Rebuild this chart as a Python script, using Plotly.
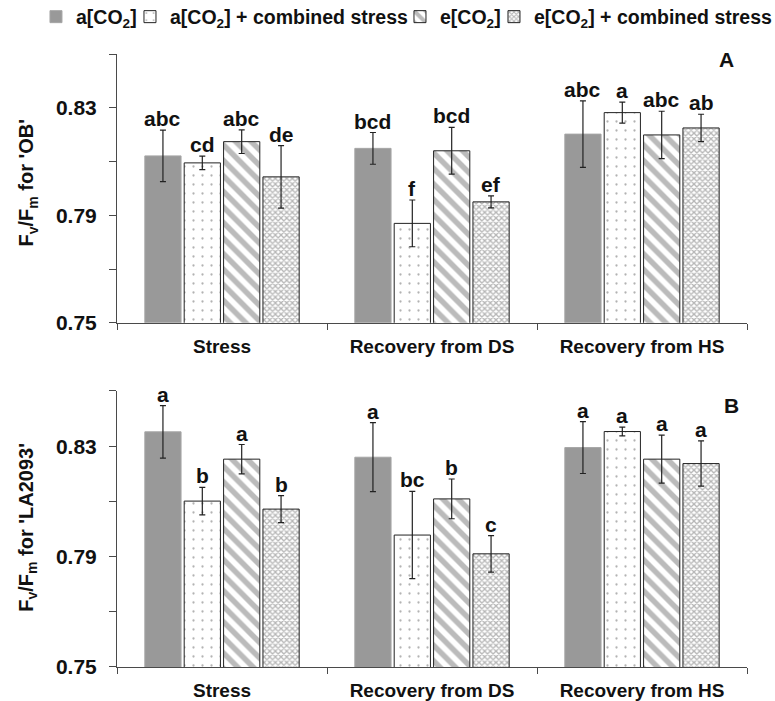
import plotly.graph_objects as go

# ---------------- data ----------------
categories = ["Stress", "Recovery from DS", "Recovery from HS"]
series_names = [
    "a[CO<sub>2</sub>]",
    "a[CO<sub>2</sub>] + combined stress",
    "e[CO<sub>2</sub>]",
    "e[CO<sub>2</sub>] + combined stress",
]

# Panel A: 'OB'
ob_a = [0.8121, 0.8149, 0.8202]
ob_a_cs = [0.8095, 0.7870, 0.8282]
ob_e = [0.8174, 0.8140, 0.8199]
ob_e_cs = [0.8043, 0.7950, 0.8225]
ob_err_a = [0.0096, 0.0059, 0.0124]
ob_err_a_cs = [0.0025, 0.0087, 0.0039]
ob_err_e = [0.0044, 0.0087, 0.0088]
ob_err_e_cs = [0.0116, 0.0022, 0.0051]
ob_let_a = ["abc", "bcd", "abc"]
ob_let_a_cs = ["cd", "f", "a"]
ob_let_e = ["abc", "bcd", "abc"]
ob_let_e_cs = ["de", "ef", "ab"]

# Panel B: 'LA2093'
la_a = [0.8352, 0.8260, 0.8295]
la_a_cs = [0.8101, 0.7978, 0.8353]
la_e = [0.8253, 0.8109, 0.8253]
la_e_cs = [0.8072, 0.7910, 0.8237]
la_err_a = [0.0095, 0.0125, 0.0094]
la_err_a_cs = [0.0050, 0.0158, 0.0016]
la_err_e = [0.0053, 0.0072, 0.0087]
la_err_e_cs = [0.0049, 0.0066, 0.0082]
la_let_a = ["a", "a", "a"]
la_let_a_cs = ["b", "bc", "a"]
la_let_e = ["a", "b", "a"]
la_let_e_cs = ["b", "c", "a"]

y_major = [0.75, 0.79, 0.83]
y_minor = [0.77, 0.81, 0.85]

# ---------------- styles ----------------
FONT = "Liberation Sans, Arial, Helvetica, sans-serif"
AXC = "#4a4a4a"
TXT = "#111111"
edge = dict(color="#222222", width=1)
markers = [
    dict(color="#999999", line=dict(color="#a6a6a6", width=1)),
    dict(color="white", line=edge,
         pattern=dict(shape=".", fgcolor="#666666", bgcolor="white", size=9, solidity=0.05)),
    dict(color="white", line=edge,
         pattern=dict(shape="\\", fgcolor="#777777", bgcolor="white", size=11, solidity=0.5)),
    dict(color="white", line=edge,
         pattern=dict(shape="x", fgcolor="#6e6e6e", bgcolor="white", size=4, solidity=0.55)),
]
legend_widths = [49, 225, 49, 237]
BARGAP = 0.25
GROUPGAP = 0.08

panels = [
    dict(vals=[ob_a, ob_a_cs, ob_e, ob_e_cs],
         errs=[ob_err_a, ob_err_a_cs, ob_err_e, ob_err_e_cs],
         lets=[ob_let_a, ob_let_a_cs, ob_let_e, ob_let_e_cs],
         xa="x", ya="y"),
    dict(vals=[la_a, la_a_cs, la_e, la_e_cs],
         errs=[la_err_a, la_err_a_cs, la_err_e, la_err_e_cs],
         lets=[la_let_a, la_let_a_cs, la_let_e, la_let_e_cs],
         xa="x2", ya="y2"),
]

fig = go.Figure()
annotations = []
nser = len(series_names)
slot = (1 - BARGAP) / nser
for p_i, p in enumerate(panels):
    for j in range(nser):
        fig.add_trace(go.Bar(
            x=categories, y=p["vals"][j], name=series_names[j],
            marker=markers[j], showlegend=(p_i == 0),
            legendwidth=legend_widths[j],
            error_y=dict(type="data", array=p["errs"][j], visible=True,
                         color="#222222", thickness=1.2, width=3),
            xaxis=p["xa"], yaxis=p["ya"],
        ))
        for i in range(len(categories)):
            annotations.append(dict(
                x=i + (j - (nser - 1) / 2) * slot,
                y=p["vals"][j][i] + p["errs"][j][i],
                xref=p["xa"], yref=p["ya"],
                text=p["lets"][j][i], showarrow=False,
                xanchor="center", yanchor="bottom", yshift=-2,
                font=dict(family=FONT, size=21, color=TXT, weight="bold"),
            ))

# y-axis titles and panel letters
for txt, ypos in [("F<sub>v</sub>/F<sub>m</sub> for 'OB'", 0.7903),
                  ("F<sub>v</sub>/F<sub>m</sub> for 'LA2093'", 0.2272)]:
    annotations.append(dict(
        x=0, y=ypos, xref="paper", yref="paper", xshift=-89,
        text=txt, textangle=-90, showarrow=False,
        xanchor="center", yanchor="middle",
        font=dict(family=FONT, size=20, color=TXT, weight="bold"),
    ))
for txt, xpos, ypos in [("A", 0.968, 0.9918), ("B", 0.975, 0.427)]:
    annotations.append(dict(
        x=xpos, y=ypos, xref="paper", yref="paper", text=txt, showarrow=False,
        xanchor="center", yanchor="middle",
        font=dict(family=FONT, size=21, color=TXT, weight="bold"),
    ))

xcommon = dict(
    type="category", tickson="boundaries", ticks="outside", ticklen=6,
    tickcolor=AXC, showline=True, linecolor=AXC, linewidth=1,
    showgrid=False, zeroline=False, ticklabelstandoff=6,
    tickfont=dict(family=FONT, size=19, color=TXT, weight="bold"),
    range=[-0.5, 2.5],
)
ycommon = dict(
    range=[0.75, 0.85], tickmode="array", tickvals=y_major, tickformat=".2f",
    ticks="outside", ticklen=7, tickcolor=AXC, showline=True, linecolor=AXC,
    linewidth=1, showgrid=False, zeroline=False, ticklabelstandoff=8,
    tickfont=dict(family=FONT, size=21, color=TXT, weight="bold"),
    minor=dict(tickmode="array", tickvals=y_minor, ticks="outside", ticklen=7,
               tickcolor=AXC, showgrid=False),
)

fig.update_layout(
    width=775, height=701,
    margin=dict(l=117, r=28, t=54, b=34, autoexpand=False),
    paper_bgcolor="white", plot_bgcolor="white",
    barmode="group", bargap=BARGAP, bargroupgap=GROUPGAP,
    xaxis=dict(anchor="y", domain=[0, 1], **xcommon),
    xaxis2=dict(anchor="y2", domain=[0, 1], **xcommon),
    yaxis=dict(anchor="x", domain=[0.5614, 1], **ycommon),
    yaxis2=dict(anchor="x2", domain=[0, 0.4503], **ycommon),
    legend=dict(orientation="h", x=-0.1286, xanchor="left", y=1.0604, yanchor="middle",
                font=dict(family=FONT, size=19.5, color=TXT, weight="bold"),
                bgcolor="rgba(0,0,0,0)", borderwidth=0, itemwidth=30,
                entrywidthmode="pixels"),
    annotations=annotations,
    showlegend=True,
)

fig.write_html("out.html")
